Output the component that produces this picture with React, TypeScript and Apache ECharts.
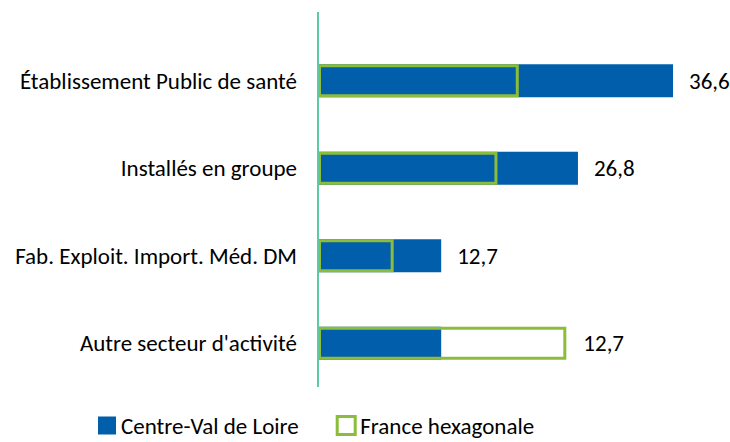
import React, { useEffect, useRef } from "react";
import * as echarts from "echarts";

const categories = [
  "Établissement Public de santé",
  "Installés en groupe",
  "Fab. Exploit. Import. Méd. DM",
  "Autre secteur d'activité",
];
const centreValues = [36.6, 26.8, 12.7, 12.7];
const franceValues = [20.7, 18.5, 7.8, 25.6];
const seriesNames = ["Centre-Val de Loire", "France hexagonale"];

const BLUE = "#005EAA";
const GREEN = "#8CBD3A";
const TEAL = "#5DC9A9";
const FONT = "Carlito, Calibri, Lato, sans-serif";
const FS = 23;

const fmt = (v: number) => v.toFixed(1).replace(".", ",");

export default function App() {
  const ref = useRef<HTMLDivElement>(null);
  useEffect(() => {
    if (!ref.current) return;
    const chart = echarts.init(ref.current, null, { renderer: "svg" });
    const labelBase = {
      show: true,
      position: "right",
      distance: 16,
      color: "#000",
      fontSize: FS,
      fontFamily: FONT,
    };
    const cats = [...categories].reverse();
    const centre = [...centreValues].reverse();
    const france = [...franceValues].reverse();
    chart.setOption({
      animation: false,
      grid: { left: 318, right: 24, top: 37, bottom: 55, containLabel: false },
      xAxis: {
        type: "value",
        min: 0,
        max: 40,
        show: false,
        splitLine: { show: false },
      },
      yAxis: {
        type: "category",
        data: cats,
        axisLine: { show: false },
        axisTick: { show: false },
        axisLabel: { color: "#000", fontSize: FS, fontFamily: FONT, margin: 21 },
      },
      legend: {
        top: 409,
        left: 93,
        itemWidth: 18,
        itemHeight: 18,
        itemGap: 37,
        icon: "rect",
        textStyle: { color: "#000", fontSize: FS, fontFamily: FONT },
        data: [
          { name: seriesNames[0], itemStyle: { color: BLUE } },
          {
            name: seriesNames[1],
            itemStyle: { color: "#fff", borderColor: GREEN, borderWidth: 3 },
          },
        ],
      },
      series: [
        {
          name: seriesNames[0],
          type: "bar",
          barWidth: 33,
          barGap: "-100%",
          itemStyle: { color: BLUE },
          data: centre.map((v, i) => ({
            value: v,
            label: { ...labelBase, show: v >= france[i], formatter: () => fmt(v) },
          })),
        },
        {
          name: seriesNames[1],
          type: "bar",
          barWidth: 33,
          barGap: "-100%",
          itemStyle: { color: "rgba(0,0,0,0)", borderColor: GREEN, borderWidth: 3 },
          data: france.map((v, i) => ({
            value: v,
            label: {
              ...labelBase,
              show: v > centre[i],
              distance: 17,
              formatter: () => fmt(centre[i]),
            },
          })),
        },
      ],
      graphic: [
        {
          type: "line",
          shape: { x1: 318, y1: 12, x2: 318, y2: 387 },
          style: { stroke: TEAL, lineWidth: 2 },
          z: 10,
        },
      ],
    });
    return () => chart.dispose();
  }, []);
  return (
    <div
      ref={ref}
      style={{ position: "absolute", left: 0, top: 0, width: 730, height: 442 }}
    />
  );
}
